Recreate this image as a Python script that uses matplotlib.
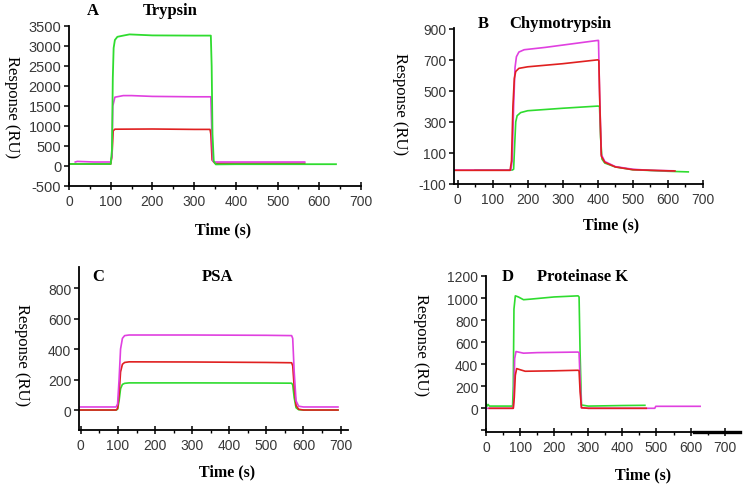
import matplotlib
matplotlib.use("Agg")
from matplotlib import pyplot as plt
from matplotlib.ticker import MultipleLocator

W, H = 746, 489

GREEN = "#2fdc2f"
MAGENTA = "#e040e0"
RED = "#e02020"

# ---- A: Trypsin
a_green_t = [-2, 100, 103, 105, 107, 110, 116, 130, 145, 200, 300, 340, 342, 344, 347, 352, 400, 500, 640]
a_green_v = [50, 50, 400, 2200, 2950, 3150, 3230, 3260, 3290, 3265, 3260, 3260, 2500, 800, 120, 40, 45, 45, 45]
a_mag_t = [15, 20, 60, 100, 103, 105, 110, 130, 150, 200, 300, 340, 342, 345, 350, 400, 565]
a_mag_v = [100, 115, 100, 100, 250, 1500, 1720, 1760, 1760, 1740, 1730, 1730, 1000, 120, 100, 100, 100]
a_red_t = [0, 100, 103, 106, 110, 200, 300, 338, 340, 343, 350, 565]
a_red_v = [50, 50, 250, 880, 920, 925, 915, 915, 800, 150, 65, 65]

# ---- B: Chymotrypsin
b_mag_t = [-20, 60, 152, 156, 160, 164, 168, 175, 190, 250, 300, 400, 402, 405, 410, 420, 450, 500, 550, 615]
b_mag_v = [-10, -10, -10, 50, 400, 650, 720, 750, 765, 780, 795, 825, 825, 500, 90, 45, 12, -5, -12, -15]
b_red_t = [-20, 150, 154, 158, 162, 166, 175, 200, 300, 400, 403, 406, 410, 420, 450, 500, 600, 620]
b_red_v = [-12, -12, 50, 400, 580, 625, 645, 655, 675, 700, 695, 400, 80, 40, 10, -8, -15, -16]
b_green_t = [50, 156, 160, 163, 166, 170, 180, 200, 300, 400, 405, 408, 412, 420, 450, 500, 600, 658]
b_green_v = [-10, -10, -5, 150, 300, 340, 360, 372, 388, 402, 400, 200, 60, 35, 10, -8, -18, -22]

# ---- C: PSA
c_t = [-5, 95, 99, 103, 107, 112, 118, 130, 300, 500, 568, 571, 575, 580, 587, 600, 693]
c_mag_v = [20, 20, 40, 200, 400, 470, 488, 492, 492, 490, 488, 470, 250, 60, 25, 20, 20]
c_red_v = [0, 0, 10, 100, 250, 300, 312, 316, 315, 312, 310, 290, 150, 30, 5, 0, 0]
c_green_v = [0, 0, 5, 60, 140, 168, 175, 178, 178, 177, 176, 165, 80, 15, 2, 0, 0]

# ---- D: Proteinase K
d_green_t = [0, 3, 6, 10, 78, 80, 82, 86, 95, 110, 130, 200, 270, 273, 276, 280, 300, 400, 466]
d_green_v = [40, 20, 35, 20, 20, 200, 900, 1020, 1010, 985, 990, 1010, 1020, 1010, 500, 30, 20, 25, 27]
d_mag_t = [0, 80, 82, 84, 88, 95, 110, 150, 270, 273, 276, 280, 300, 495, 498, 628]
d_mag_v = [0, 0, 100, 450, 515, 510, 500, 505, 510, 505, 250, 5, 0, 0, 18, 18]
d_red_t = [10, 80, 83, 86, 90, 100, 115, 200, 270, 273, 276, 280, 300, 470]
d_red_v = [0, 0, 100, 300, 360, 350, 336, 340, 345, 340, 150, 5, 0, 0]

plt.rcParams["font.family"] = "Liberation Sans"
SERIF = "Liberation Serif"

fig = plt.figure(figsize=(W / 100, H / 100), dpi=100)


def make_axes(x0, ytop, x1, ybot):
    return fig.add_axes([x0 / W, (H - ybot) / H, (x1 - x0) / W, (ybot - ytop) / H])


def style(ax, xlim, ylim, yticks, ylabels):
    ax.set_xlim(*xlim)
    ax.set_ylim(*ylim)
    for s in ("top", "right"):
        ax.spines[s].set_visible(False)
    for s in ("left", "bottom"):
        ax.spines[s].set_linewidth(1.3)
    ax.set_xticks(range(0, 701, 100))
    ax.xaxis.set_minor_locator(MultipleLocator(50))
    ax.set_yticks(yticks)
    ax.set_yticklabels(ylabels)
    ax.tick_params(axis="x", which="major", direction="inout", length=6, width=1.1,
                   labelsize=10, labelcolor="#383838", pad=3)
    ax.tick_params(axis="x", which="minor", direction="out", length=2.5, width=1)
    ax.tick_params(axis="y", which="major", direction="out", length=3.5, width=1.1,
                   labelsize=10, labelcolor="#383838", pad=2)


def text(x, y, s, size=12, weight="bold", rot=0):
    fig.text(x / W, 1 - y / H, s, fontsize=size, fontweight=weight, family=SERIF,
             ha="center", va="center", rotation=rot)


# A
ax = make_axes(69, 27, 361, 187)
ax.plot(a_red_t, a_red_v, color=RED, lw=1.2)
ax.plot(a_mag_t, a_mag_v, color=MAGENTA, lw=1.2)
ax.plot(a_green_t, a_green_v, color=GREEN, lw=1.3)
yt = list(range(-500, 3501, 500))
style(ax, (0, 700), (-500, 3500), yt, [str(v) for v in yt])
for lab in ax.get_yticklabels():
    lab.set_fontsize(10.5)
text(93, 11, "A")
text(170, 11, "Trypsin")
text(12, 107, "Response (RU)", size=12, weight="normal", rot=-90)
text(223, 230, "Time (s)", size=11.5)

# B
ax = make_axes(454, 29, 703, 185)
ax.plot(b_green_t, b_green_v, color=GREEN, lw=1.2)
ax.plot(b_mag_t, b_mag_v, color=MAGENTA, lw=1.2)
ax.plot(b_red_t, b_red_v, color=RED, lw=1.2)
yt = [-100, 100, 300, 500, 700, 900]
style(ax, (-10, 700), (-100, 905), yt, [str(v) for v in yt])
text(483, 24, "B")
text(560, 24, "Chymotrypsin")
text(400, 104, "Response (RU)", size=12, weight="normal", rot=-90)
text(611, 225, "Time (s)", size=11.5)

# C
ax = make_axes(79, 268, 348, 431)
ax.plot(c_t, c_green_v, color=GREEN, lw=1.2)
ax.plot(c_t, c_red_v, color=RED, lw=1.2)
ax.plot(c_t, c_mag_v, color=MAGENTA, lw=1.2)
yt = [0, 200, 400, 600, 800]
style(ax, (-5, 720), (-131, 938), yt, [str(v) for v in yt])
text(98, 277, "C")
text(218, 277, "PSA")
text(22, 355, "Response (RU)", size=12, weight="normal", rot=-90)
text(227, 472, "Time (s)", size=11.5)

# D
ax = make_axes(486, 277, 740, 433)
ax.plot(d_green_t, d_green_v, color=GREEN, lw=1.2)
ax.plot(d_mag_t, d_mag_v, color=MAGENTA, lw=1.2)
ax.plot(d_red_t, d_red_v, color=RED, lw=1.2)
yt = list(range(-200, 1201, 200))
style(ax, (0, 745), (-215, 1200), yt, [""] + [str(v) for v in yt[1:]])
# heavier stretch of the axis line at the right end, as in the original
ax.axhline(-215, xmin=0.82, xmax=1.0, color="black", lw=2.4, clip_on=False)
text(508, 277, "D")
text(583, 277, "Proteinase K")
text(421, 345, "Response (RU)", size=12, weight="normal", rot=-90)
text(643, 475, "Time (s)", size=11.5)

fig.savefig("out.png", dpi=100)
